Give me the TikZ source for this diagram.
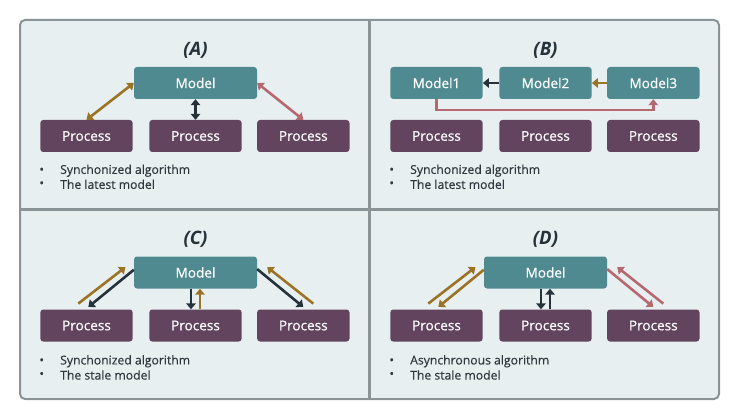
\documentclass[tikz,border=0pt]{standalone}
\usepackage{fontspec}
\setmainfont{Open Sans}
\newfontfamily\boxfont{Open Sans}[FakeBold=0.6]
\newfontfamily\bulfont{Open Sans}[FakeBold=0.35]
\usetikzlibrary{arrows.meta,calc}
\definecolor{cBg}{HTML}{E8EFF1}
\definecolor{cFrame}{HTML}{8A9396}
\definecolor{cModel}{HTML}{4F8A91}
\definecolor{cProc}{HTML}{62445F}
\definecolor{cGold}{HTML}{9B7325}
\definecolor{cRed}{HTML}{B5696E}
\definecolor{cDark}{HTML}{26323A}
\definecolor{cText}{HTML}{30383F}
\tikzset{
  boxbase/.style={rounded corners=3pt, minimum height=32pt, inner sep=0pt, text=white, font=\boxfont\fontsize{13.6}{16}\selectfont},
  model/.style={boxbase, fill=cModel, minimum width=123pt},
  models/.style={boxbase, fill=cModel, minimum width=92.4pt},
  proc/.style={boxbase, fill=cProc, minimum width=92.4pt},
  ttl/.style={text=cDark, font=\fontsize{18.5}{22}\selectfont\bfseries\itshape, inner sep=0pt},
  bul/.style={text=cText, font=\bulfont\fontsize{12.2}{14}\selectfont, inner sep=0pt},
  btxt/.style={text=cText, font=\bulfont\fontsize{12.2}{14}\selectfont, inner sep=0pt, anchor=west},
  ar/.style={line width=2.6pt, -{Triangle[length=6pt,width=9.5pt]}},
  bi/.style={line width=2.6pt, {Triangle[length=6pt,width=9.5pt]}-{Triangle[length=6pt,width=9.5pt]}},
}
\begin{document}
\begin{tikzpicture}[x=1pt,y=-1pt]
\useasboundingbox (0,0) rectangle (740,420);
\draw[cFrame, line width=2pt, fill=cBg, rounded corners=5pt] (20,20) rectangle (719,399);
\draw[cFrame, line width=2.2pt] (369.5,20) -- (369.5,399);
\draw[cFrame, line width=2.2pt] (20,209.5) -- (719,209.5);

% ---------- Panel A ----------
\node[ttl] (tA) at (195.5,50) {(A)};
\node[model] (mA) at (195.5,83) {Model};
\node[proc] (pA1) at (86.5,136) {Process};
\node[proc] (pA2) at (195.5,136) {Process};
\node[proc] (pA3) at (303.3,136) {Process};
\draw[bi,cGold] (pA1.north) -- (mA.west);
\draw[bi,cDark] (mA.south) -- (pA2.north);
\draw[bi,cRed] (mA.east) -- (pA3.north);
\node[bul] (bA1) at (41.7,170.7) {•};
\node[btxt] (xA1) at (60,170.7) {Synchonized algorithm};
\node[bul] (bA2) at (41.7,184.3) {•};
\node[btxt] (xA2) at (60,184.3) {The latest model};

% ---------- Panel B ----------
\node[ttl] (tB) at (545.5,50) {(B)};
\node[models] (mB1) at (436.5,83) {Model1};
\node[models] (mB2) at (545.5,83) {Model2};
\node[models] (mB3) at (653.3,83) {Model3};
\node[proc] (pB1) at (436.5,136) {Process};
\node[proc] (pB2) at (545.5,136) {Process};
\node[proc] (pB3) at (653.3,136) {Process};
\draw[ar,cDark] (mB2.west) -- (mB1.east);
\draw[ar,cGold] (mB3.west) -- (mB2.east);
\draw[ar,cRed] (mB1.south) -- ++(0,11) -| (mB3.south);
\node[bul] (bB1) at (391.7,170.7) {•};
\node[btxt] (xB1) at (410,170.7) {Synchonized algorithm};
\node[bul] (bB2) at (391.7,184.3) {•};
\node[btxt] (xB2) at (410,184.3) {The latest model};

% ---------- Panel C ----------
\node[ttl] (tC) at (195.5,239.5) {(C)};
\node[model] (mC) at (195.5,272.5) {Model};
\node[proc] (pC1) at (86.5,325.5) {Process};
\node[proc] (pC2) at (195.5,325.5) {Process};
\node[proc] (pC3) at (303.3,325.5) {Process};
\draw[ar,cGold] ([xshift=-8.2pt,yshift=5.7pt]pC1.north) -- ([xshift=-8.3pt,yshift=5.4pt]mC.west);
\draw[ar,cDark] ([yshift=2.7pt]mC.west) -- ([xshift=1.8pt,yshift=2.3pt]pC1.north);
\draw[ar,cDark] ([xshift=-4.5pt]mC.south) -- ([xshift=-4.5pt]pC2.north);
\draw[ar,cGold] ([xshift=4.5pt]pC2.north) -- ([xshift=4.5pt]mC.south);
\draw[ar,cDark] ([yshift=3.4pt]mC.east) -- ([yshift=2.3pt]pC3.north);
\draw[ar,cGold] ([xshift=10pt,yshift=5.7pt]pC3.north) -- ([xshift=10pt,yshift=5.4pt]mC.east);
\node[bul] (bC1) at (41.7,361.3) {•};
\node[btxt] (xC1) at (60,361.3) {Synchonized algorithm};
\node[bul] (bC2) at (41.7,375) {•};
\node[btxt] (xC2) at (60,375) {The stale model};

% ---------- Panel D ----------
\node[ttl] (tD) at (545.5,239.5) {(D)};
\node[model] (mD) at (545.5,272.5) {Model};
\node[proc] (pD1) at (436.5,325.5) {Process};
\node[proc] (pD2) at (545.5,325.5) {Process};
\node[proc] (pD3) at (653.3,325.5) {Process};
\draw[ar,cGold] ([xshift=-8.2pt,yshift=5.7pt]pD1.north) -- ([xshift=-8.3pt,yshift=5.4pt]mD.west);
\draw[ar,cGold] ([yshift=2.7pt]mD.west) -- ([xshift=1.8pt,yshift=2.3pt]pD1.north);
\draw[ar,cDark] ([xshift=-4.5pt]mD.south) -- ([xshift=-4.5pt]pD2.north);
\draw[ar,cDark] ([xshift=4.5pt]pD2.north) -- ([xshift=4.5pt]mD.south);
\draw[ar,cRed] ([yshift=3.4pt]mD.east) -- ([yshift=2.3pt]pD3.north);
\draw[ar,cRed] ([xshift=10pt,yshift=5.7pt]pD3.north) -- ([xshift=10pt,yshift=5.4pt]mD.east);
\node[bul] (bD1) at (391.7,361.3) {•};
\node[btxt] (xD1) at (410,361.3) {Asynchronous algorithm};
\node[bul] (bD2) at (391.7,375) {•};
\node[btxt] (xD2) at (410,375) {The stale model};
\end{tikzpicture}
\end{document}
